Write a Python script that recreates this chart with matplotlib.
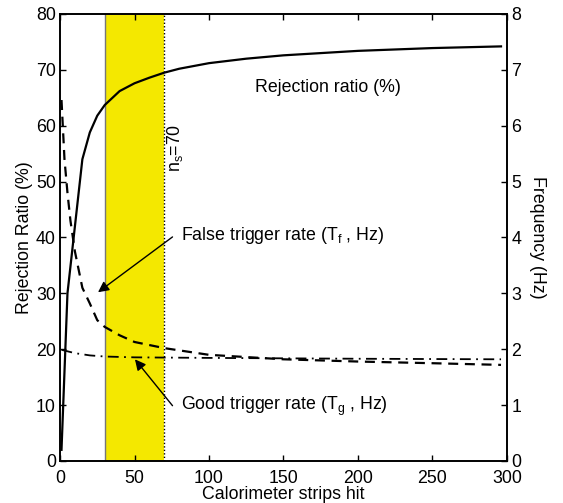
import matplotlib.pyplot as plt

plt.rcParams['font.family'] = ['Liberation Sans', 'DejaVu Sans']
plt.rcParams['font.size'] = 12.8

# rejection ratio (%) vs number of calorimeter strips hit
strips_rej = [1, 5, 10, 15, 20, 25, 30, 40, 50, 60, 70, 80, 100, 125, 150, 200, 250, 296]
rejection = [2, 30, 42, 54, 58.8, 61.8, 63.7, 66.2, 67.6, 68.6, 69.5, 70.2, 71.2, 72.0, 72.6, 73.4, 73.9, 74.2]

# false trigger rate T_f (Hz)
strips_f = [1, 3, 5, 7, 10, 15, 20, 25, 30, 40, 50, 70, 100, 150, 200, 250, 296]
false_rate = [6.46, 5.4, 4.8, 4.3, 3.75, 3.1, 2.82, 2.52, 2.4, 2.25, 2.13, 2.02, 1.9, 1.82, 1.78, 1.75, 1.72]

# good trigger rate T_g (Hz)
strips_g = [1, 10, 20, 30, 50, 100, 200, 296]
good_rate = [1.99, 1.93, 1.89, 1.87, 1.855, 1.845, 1.83, 1.82]

band = (30, 70)
n_s = 70

fig = plt.figure(figsize=(5.63, 5.03), dpi=100)
ax = fig.add_axes([0.1066, 0.0835, 0.7939, 0.8887])
ax2 = ax.twinx()

ax.axvspan(band[0], band[1], facecolor='#F4E800', edgecolor='none', zorder=0)
ax.axvline(band[0], color='#777777', lw=1.0, zorder=1)
ax.axvline(n_s, color='black', lw=1.0, ls=(0, (1, 1.5)), zorder=1)

ax.plot(strips_rej, rejection, color='black', lw=1.6, zorder=3)
ax2.plot(strips_f, false_rate, color='black', lw=1.6, ls=(0, (4.5, 3)))
ax2.plot(strips_g, good_rate, color='black', lw=1.3, ls=(0, (6, 3, 1, 3)))

ax.set_xlim(0, 300)
ax.set_ylim(0, 80)
ax2.set_ylim(0, 8)
ax.set_xticks(range(0, 301, 50))
ax.set_yticks(range(0, 81, 10))
ax2.set_yticks(range(0, 9))

ax.tick_params(direction='in', top=True, right=False, length=4, width=1, pad=3)
ax.tick_params(axis='x', pad=6.5)
ax2.tick_params(direction='in', length=4, width=1, pad=3)
for a in (ax, ax2):
    for s in a.spines.values():
        s.set_linewidth(1.2)

ax.set_xlabel('Calorimeter strips hit', labelpad=-1)
ax.set_ylabel('Rejection Ratio (%)', labelpad=2)
ax2.set_ylabel('Frequency (Hz)', rotation=270, labelpad=18)

ax.text(131, 66.9, 'Rejection ratio (%)', ha='left', va='center')
ax.text(77, 56, r'n$_\mathregular{s}$=70', rotation=90, ha='center', va='center')

# labels for the two rate curves, with arrows pointing at them
ax.text(81, 40.4, r'False trigger rate (T$_\mathregular{f}$ , Hz)', ha='left', va='center')
ax.text(81, 9.8, r'Good trigger rate (T$_\mathregular{g}$ , Hz)', ha='left', va='center')
arrow = dict(arrowstyle='-|>', color='black', lw=1.0, mutation_scale=16, shrinkA=0, shrinkB=0)
ax.annotate('', xy=(25.5, 30.2), xytext=(75.5, 40.1), arrowprops=arrow)
ax.annotate('', xy=(50.3, 18.2), xytext=(75.5, 9.9), arrowprops=arrow)

fig.savefig('out.png', dpi=100)
